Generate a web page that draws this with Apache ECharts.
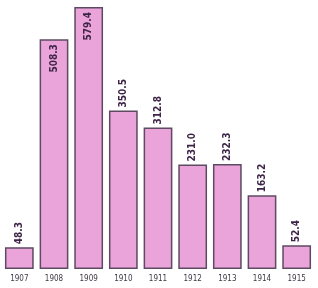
<!DOCTYPE html>
<html><head><meta charset="utf-8">
<script src="https://cdn.jsdelivr.net/npm/echarts@6/dist/echarts.min.js"></script>
<style>html,body{margin:0;padding:0;background:#fff}#c{width:318px;height:288px}</style>
</head><body><div id="c"></div>
<script>
var categories = ['1907','1908','1909','1910','1911','1912','1913','1914','1915'];
var values = [48.3, 508.3, 579.4, 350.5, 312.8, 231.0, 232.3, 163.2, 52.4];
var labelTexts = ['48.3','508.3','579.4','350.5','312.8','231.0','232.3','163.2','52.4'];
var insideThreshold = 450;

var chart = echarts.init(document.getElementById('c'), null, {renderer:'canvas'});
var data = values.map(function(v, i){
  var inside = v > insideThreshold;
  return {
    value: v,
    label: inside ? {position:'insideTop', rotate:90, align:'right', verticalAlign:'middle', distance:5} :
                    {position:'top', rotate:90, align:'left', verticalAlign:'middle', distance:3}
  };
});
chart.setOption({
  animation:false,
  grid:{left:2, right:4, top:7, bottom:19, containLabel:false},
  xAxis:{type:'category', data:categories,
    axisLine:{show:false}, axisTick:{show:false},
    axisLabel:{color:'#3e3845', fontSize:8, fontFamily:'Liberation Sans Narrow, DejaVu Sans Condensed, sans-serif', margin:6}},
  yAxis:{type:'value', min:0, max:'dataMax', show:false, splitLine:{show:false}},
  series:[{type:'bar', data:data, barCategoryGap:'17%',
    itemStyle:{color:'#eaa4da', borderColor:'#5e4a62', borderWidth:1.5},
    label:{show:true, color:'#3e2548', fontSize:10, fontWeight:'bold', fontFamily:'Liberation Sans Narrow, DejaVu Sans Condensed, sans-serif',
      formatter:function(p){return labelTexts[p.dataIndex];}}
  }]
});
</script></body></html>
